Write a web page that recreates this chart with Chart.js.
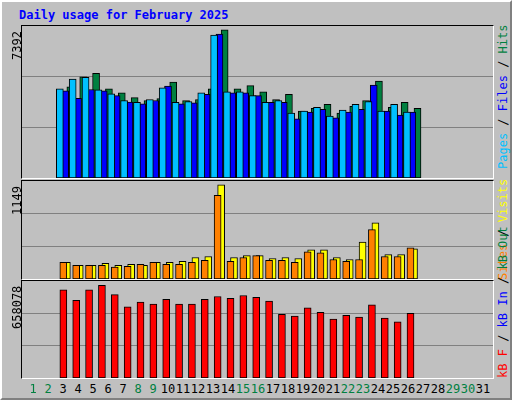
<!DOCTYPE html>
<html><head><meta charset="utf-8">
<script src="https://cdn.jsdelivr.net/npm/chart.js@4"></script>
<style>
body{margin:0;background:#fff;}
#wrap{position:absolute;left:0;top:0;width:508px;height:396px;background:#c0c0c0;border-top:2px solid #fff;border-left:2px solid #fff;border-right:2px solid #808080;border-bottom:2px solid #808080;}
.t{position:absolute;font-family:"DejaVu Sans Mono",monospace;font-size:12px;white-space:nowrap;}
.rot{transform-origin:0 0;transform:rotate(-90deg);}
.panel{position:absolute;left:19px;width:471px;border-top:1px solid #000;border-left:1px solid #000;border-right:1px solid #fff;border-bottom:1px solid #fff;}
canvas{position:absolute;}
</style></head><body>
<div id="wrap"></div>
<script>
const days = Array.from({length:28},(_,i)=>i+1);
const hits  = [4542,5041,5218,4445,4252,4010,3865,3962,4783,3865,3914,4445,7392,4445,4606,4300,3914,4171,3334,3479,3672,3237,3575,3865,4832,3527,3769,3479];
const files = [4348,3978,4413,4348,4107,3785,3704,3865,4590,3704,3752,4171,7180,4252,4252,4107,3769,3769,2947,3285,3430,2996,3285,3430,4638,3334,3140,3285];
const pages = [4445,4928,5025,4397,4203,3865,3769,3914,4493,3769,3817,4252,7130,4300,4300,4107,3769,3865,3237,3334,3527,3092,3382,3672,3817,3334,3672,3285];
const visits= [203,168,168,191,168,180,168,203,203,215,262,274,1149,262,285,285,250,262,250,356,356,262,238,449,684,297,297,367];
const sites = [203,168,168,168,145,156,180,203,180,180,203,227,1020,215,262,285,227,227,203,332,320,238,215,238,602,274,274,379];
const kbytes= [624828,551700,624828,658078,591590,505180,538420,525120,558360,525120,525120,558360,578300,565000,584950,571650,545060,452000,438710,498530,465300,418770,445360,432060,518470,425410,398830,458650];
const dayLabels = Array.from({length:31},(_,i)=>String(i+1));
const weekend = [1,2,8,9,15,16,22,23,29,30];
const maxLabels = ["7392","1149","658078"];

const wrap=document.getElementById('wrap');
function el(tag,cls,style,html){const e=document.createElement(tag);if(cls)e.className=cls;Object.assign(e.style,style);if(html!==undefined)e.innerHTML=html;wrap.appendChild(e);return e;}
el('div','t',{left:'17px',top:'6px',color:'#0000ff',fontWeight:'bold'},'Daily usage for February 2025');

const panels=[
 {top:23,h:152,max:7580,ds:[[hits,'#008040',-0.27,3],[files,'#0000ff',-0.13,2],[pages,'#00c0ff',0,1]]},
 {top:178,h:98,max:1195,ds:[[visits,'#ffff00',-0.27,2],[sites,'#ff8000',0,1]]},
 {top:278,h:97,max:688000,ds:[[kbytes,'#ff0000',-0.27,1]]}
];
panels.forEach((p,pi)=>{
  el('div','panel',{top:p.top+'px',height:p.h+'px'});
  const c=el('canvas','',{left:'20px',top:(p.top+1)+'px',width:'471px',height:p.h+'px'});
  c.width=471;c.height=p.h;
  new Chart(c,{type:'bar',
    data:{datasets:p.ds.map(([arr,col,sh,ord])=>({data:arr.map((v,i)=>({x:days[i]+sh,y:v})),backgroundColor:col,borderColor:'#000',borderWidth:1,barThickness:7,order:ord,borderSkipped:false}))},
    options:{responsive:false,animation:false,events:[],layout:{padding:0},
      plugins:{legend:{display:false},tooltip:{enabled:false}},
      scales:{x:{type:'linear',min:0.13,max:31.53,display:false},
        y:{min:0,max:p.max,afterBuildTicks:a=>{a.ticks=[{value:p.max/3},{value:2*p.max/3}];},
           ticks:{display:false},grid:{color:'#808080',drawTicks:false},border:{display:false}}}}});
  el('div','t rot',{left:'8px',top:(p.top+6+maxLabels[pi].length*7.2)+'px',color:'#000'},maxLabels[pi]);
});
el('div','t rot',{left:'494px',top:'167px'},'<span style="color:#00c0ff">Pages</span> / <span style="color:#0000ff">Files</span> / <span style="color:#008040">Hits</span>');
el('div','t rot',{left:'494px',top:'278px'},'<span style="color:#ff8000">Sites</span> / <span style="color:#ffff00">Visits</span>');
el('div','t rot',{left:'494px',top:'376px'},'<span style="color:#ff0000">kB F</span> / <span style="color:#0000ff">kB In</span> / <span style="color:#008040">kB Out</span> ');
dayLabels.forEach((d,i)=>{
  el('div','t',{left:(31+15*i-(d.length*3.6))+'px',top:'380px',color:weekend.includes(i+1)?'#008040':'#000'},d);
});
</script></body></html>
